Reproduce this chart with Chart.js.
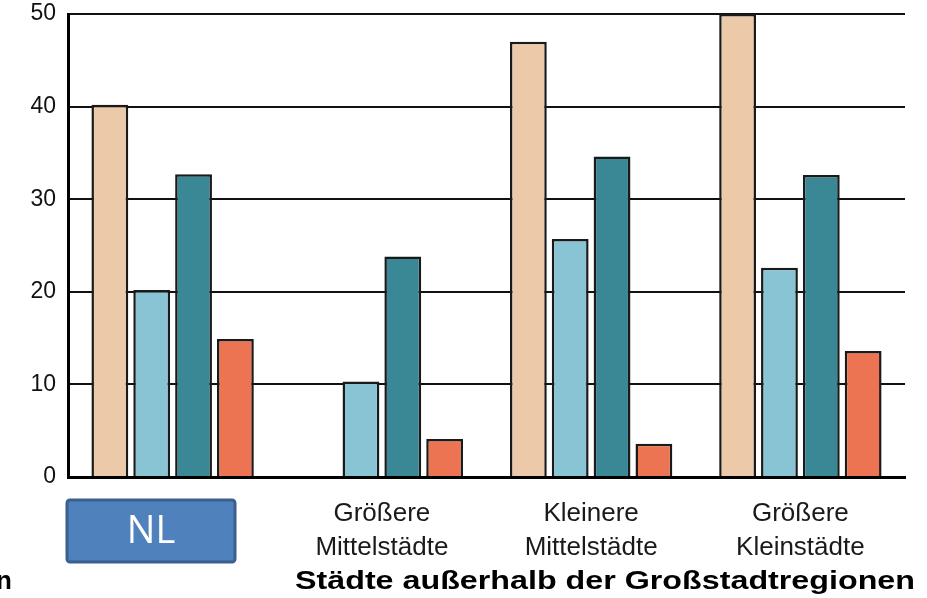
<!DOCTYPE html>
<html lang="de">
<head>
  <meta charset="UTF-8" />
  <title>Städte außerhalb der Großstadtregionen</title>
  <script src="https://cdn.jsdelivr.net/npm/chart.js"></script>
  <style>
    html, body { margin: 0; padding: 0; background: #fff; }
    #wrap { width: 927px; height: 598px; position: relative; }
  </style>
</head>
<body>
<div id="wrap"><canvas id="barChart"></canvas></div>
<script>
  // categories (first one is labelled by the NL box instead)
  const categories = ['', ['Größere', 'Mittelstädte'], ['Kleinere', 'Mittelstädte'], ['Größere', 'Kleinstädte']];
  const yTicks = [0, 10, 20, 30, 40, 50];

  // series values
  const serie1 = [40.2, null, 47.0, 50.0];
  const serie2 = [20.2, 10.3, 25.7, 22.6];
  const serie3 = [32.7, 23.8, 34.6, 32.6];
  const serie4 = [14.9, 4.1, 3.6, 13.6];

  const colors = ['#EBC9A9', '#88C4D3', '#3A8796', '#EC7452'];

  // extra text / NL box under the plot
  const annotations = {
    id: 'annotations',
    afterDraw(chart) {
      const ctx = chart.ctx;
      ctx.save();

      // NL box
      ctx.fillStyle = '#4F81BD';
      ctx.strokeStyle = '#3B5F8E';
      ctx.lineWidth = 3;
      ctx.beginPath();
      ctx.roundRect(67, 500, 168, 62, 3);
      ctx.fill();
      ctx.stroke();
      ctx.fillStyle = '#fff';
      ctx.font = '38px "Open Sans", "Liberation Sans", sans-serif';
      ctx.textAlign = 'center';
      ctx.textBaseline = 'middle';
      ctx.fillText('NL', 151, 532);

      // bold axis caption, stretched a little like the original
      const caption = 'Städte außerhalb der Großstadtregionen';
      ctx.font = 'bold 26px "Liberation Sans", Arial, sans-serif';
      ctx.fillStyle = '#000';
      ctx.textAlign = 'left';
      ctx.textBaseline = 'alphabetic';
      const w = ctx.measureText(caption).width;
      ctx.translate(295, 589);
      ctx.scale(620 / w, 1);
      ctx.fillText(caption, 0, 0);
      ctx.restore();

      // cut-off caption on the left edge
      ctx.save();
      ctx.font = 'bold 26px "Liberation Sans", Arial, sans-serif';
      ctx.fillStyle = '#000';
      ctx.textAlign = 'right';
      ctx.fillText('n', 12, 589);
      ctx.restore();
    }
  };

  const makeSet = (label, data, i) => ({
    label,
    data,
    backgroundColor: colors[i],
    borderColor: '#1a1a1a',
    borderWidth: 2.5,
    categoryPercentage: 0.8,
    barPercentage: 0.88
  });

  new Chart(document.getElementById('barChart'), {
    type: 'bar',
    data: {
      labels: categories,
      datasets: [
        makeSet('Serie 1', serie1, 0),
        makeSet('Serie 2', serie2, 1),
        makeSet('Serie 3', serie3, 2),
        makeSet('Serie 4', serie4, 3)
      ]
    },
    options: {
      responsive: true,
      maintainAspectRatio: false,
      animation: false,
      layout: { padding: { left: 0, right: 22, top: 14, bottom: 0 } },
      plugins: {
        legend: { display: false },
        tooltip: { enabled: false }
      },
      scales: {
        x: {
          grid: { display: false },
          border: { display: true, color: '#000', width: 3 },
          ticks: {
            color: '#1a1a1a',
            padding: 12,
            maxRotation: 0,
            autoSkip: false,
            font: { family: '"Liberation Sans", Arial, sans-serif', size: 26, lineHeight: 1.3 }
          },
          afterFit(scale) {
            scale.height = 121;
            scale.paddingLeft = 0;
            scale.paddingRight = 0;
          }
        },
        y: {
          min: 0,
          max: 50,
          afterBuildTicks(scale) { scale.ticks = yTicks.map(v => ({ value: v })); },
          grid: { color: '#111', lineWidth: 2, drawTicks: false },
          border: { display: true, color: '#000', width: 3 },
          ticks: {
            color: '#111',
            padding: 12,
            font: { family: '"Liberation Sans", Arial, sans-serif', size: 23 }
          },
          afterFit(scale) {
            scale.width = 68;
            scale.paddingTop = 0;
            scale.paddingBottom = 0;
          }
        }
      }
    },
    plugins: [annotations]
  });
</script>
</body>
</html>
